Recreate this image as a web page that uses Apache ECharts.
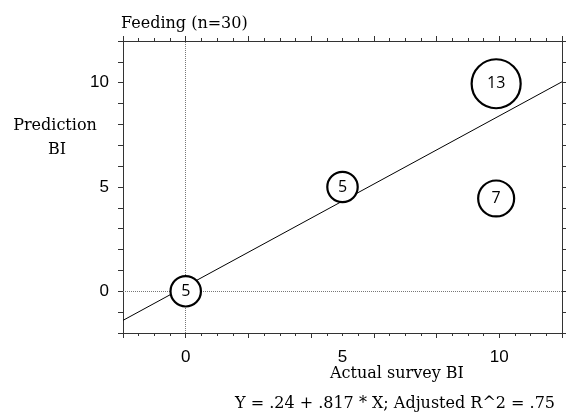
<!DOCTYPE html>
<html>
<head>
<meta charset="utf-8">
<script src="https://cdn.jsdelivr.net/npm/echarts@6/dist/echarts.min.js"></script>
<style>
  html, body { margin: 0; padding: 0; background: #fff; }
  #chart { width: 566px; height: 414px; }
</style>
</head>
<body>
<div id="chart"></div>
<script>
// ---- data ----
const pointX = [0, 5, 9.9, 9.9];
const pointY = [0, 5, 4.45, 9.95];
const pointCount = [5, 5, 7, 13];
const fitIntercept = 0.24;
const fitSlope = 0.817;
const xAxisMin = -2, xAxisMax = 12;
const yAxisMin = -2, yAxisMax = 12;
const xTickLabels = [0, 5, 10];
const yTickLabels = [0, 5, 10];
const titleText = 'Feeding (n=30)';
const xAxisTitle = 'Actual survey BI';
const yAxisTitle = ['Prediction', 'BI'];
const equationText = 'Y = .24 + .817 * X; Adjusted R^2 = .75';

const scatterData = pointX.map((x, i) => [x, pointY[i], pointCount[i]]);
const fitData = [xAxisMin, xAxisMax].map(x => [x, fitIntercept + fitSlope * x]);

const serif = '"DejaVu Serif", "Liberation Serif", serif';
const tickFont = '"Liberation Sans Narrow", "Liberation Sans", Arial, sans-serif';
const axisColor = '#333';

function tickAxis(position, extra) {
  return Object.assign({
    type: 'value', position: position,
    min: xAxisMin, max: xAxisMax, interval: 2,
    axisLine: { show: true, onZero: false, lineStyle: { color: axisColor, width: 1 } },
    axisTick: { show: true, length: 5, lineStyle: { color: axisColor, width: 1 } },
    minorTick: { show: true, splitNumber: 4, length: 3, lineStyle: { color: axisColor, width: 1 } },
    axisLabel: { show: false },
    splitLine: { show: false },
    minorSplitLine: { show: false }
  }, extra || {});
}

const chart = echarts.init(document.getElementById('chart'), null, { renderer: 'canvas' });
chart.setOption({
  animation: false,
  backgroundColor: '#fff',
  grid: { left: 123, right: 4, top: 41, bottom: 81, containLabel: false },
  xAxis: [
    tickAxis('bottom'),
    {
      type: 'value', position: 'bottom', min: xAxisMin, max: xAxisMax, interval: 1,
      axisLine: { show: false, onZero: false }, axisTick: { show: false },
      splitLine: { show: false },
      axisLabel: {
        margin: 16, fontSize: 17, fontFamily: tickFont, color: '#000',
        formatter: v => xTickLabels.includes(v) ? String(v) : ''
      }
    },
    tickAxis('top')
  ],
  yAxis: [
    {
      type: 'value', position: 'left', min: yAxisMin, max: yAxisMax, interval: 1,
      axisLine: { show: true, onZero: false, lineStyle: { color: axisColor, width: 1 } },
      axisTick: { show: true, length: 5, lineStyle: { color: axisColor, width: 1 } },
      splitLine: { show: false },
      axisLabel: {
        margin: 14, fontSize: 17, fontFamily: tickFont, color: '#000',
        formatter: v => yTickLabels.includes(v) ? String(v) : ''
      }
    },
    {
      type: 'value', position: 'right', min: yAxisMin, max: yAxisMax, interval: 1,
      axisLine: { show: true, onZero: false, lineStyle: { color: axisColor, width: 1 } },
      axisTick: { show: true, length: 4, lineStyle: { color: axisColor, width: 1 } },
      splitLine: { show: false },
      axisLabel: { show: false }
    }
  ],
  series: [
    {
      type: 'line', data: fitData, xAxisIndex: 0, yAxisIndex: 0,
      showSymbol: false, symbol: 'none', z: 2,
      lineStyle: { color: '#000', width: 1 },
      markLine: {
        silent: true, symbol: ['none', 'none'], label: { show: false },
        lineStyle: { color: '#777', type: 'dotted', width: 1 },
        data: [{ xAxis: 0 }, { yAxis: 0 }]
      }
    },
    {
      type: 'scatter', data: scatterData, xAxisIndex: 0, yAxisIndex: 0, z: 5,
      symbol: 'circle',
      symbolSize: d => 13.6 * Math.sqrt(d[2]),
      itemStyle: { color: '#fff', borderColor: '#000', borderWidth: 2.2, opacity: 1 },
      label: {
        show: true, position: 'inside', formatter: p => String(p.data[2]),
        fontSize: 16, fontFamily: '"Open Sans", "Noto Sans", sans-serif', color: '#000'
      }
    }
  ],
  graphic: [
    { type: 'text', x: 121, y: 24, style: { text: titleText, textAlign: 'left', textVerticalAlign: 'middle', font: '16px ' + serif, fill: '#000' } },
    { type: 'text', x: 55, y: 126, style: { text: yAxisTitle[0], textAlign: 'center', textVerticalAlign: 'middle', font: '16px ' + serif, fill: '#000' } },
    { type: 'text', x: 57, y: 150, style: { text: yAxisTitle[1], textAlign: 'center', textVerticalAlign: 'middle', font: '16px ' + serif, fill: '#000' } },
    { type: 'text', x: 397, y: 374, style: { text: xAxisTitle, textAlign: 'center', textVerticalAlign: 'middle', font: '16px ' + serif, fill: '#000' } },
    { type: 'text', x: 395, y: 404, style: { text: equationText, textAlign: 'center', textVerticalAlign: 'middle', font: '16px ' + serif, fill: '#000' } }
  ]
});
</script>
</body>
</html>
